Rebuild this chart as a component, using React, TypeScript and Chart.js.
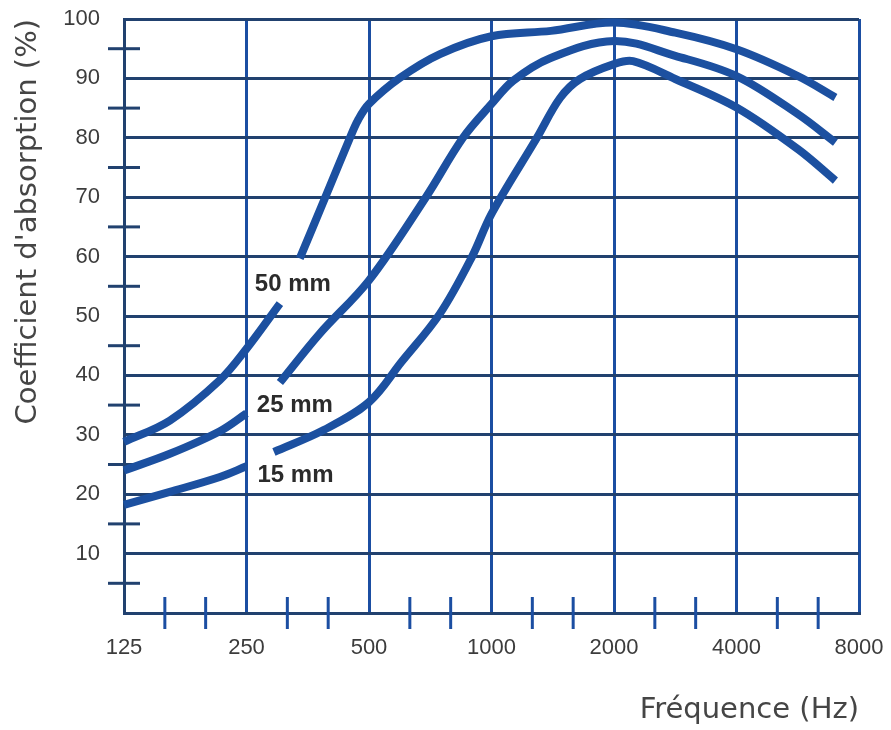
import React, { useEffect, useRef } from 'react';
import { Chart, registerables } from 'chart.js';

Chart.register(...registerables);

// Axis ticks
const xTickValues = [125, 250, 500, 1000, 2000, 4000, 8000];
const xMinorTicks = [157.5, 198.4, 315, 396.9, 630, 793.7, 1259.9, 1587.4, 2519.8, 3174.8, 5039.7, 6349.6];
const yMinorTicks = [5, 15, 25, 35, 45, 55, 65, 75, 85, 95];

// 50 mm curve (null = gap for the label)
const freq50 = [125, 162, 215, 250, 302, 320, 338, 390, 449, 470, 500, 596, 747, 1000, 1400, 2000, 2828, 4000, 5657, 7000];
const abs50 = [28.8, 32.4, 39.2, 44.5, 52.1, null, 59.7, 69.9, 80, 83, 85.7, 90.1, 94.1, 97.1, 98, 99.4, 97.7, 94.9, 90.4, 86.8];

// 25 mm curve
const freq25 = [125, 162, 215, 250, 275, 302, 378, 500, 690, 851, 1000, 1130, 1393, 2000, 2828, 4000, 5657, 7000];
const abs25 = [24, 26.8, 30.6, 33.6, null, 38.8, 47, 56, 70, 80, 85.7, 89.6, 93.4, 96.3, 93.8, 90.4, 84, 79.2];

// 15 mm curve
const freq15 = [125, 162, 215, 250, 270, 292, 387, 500, 600, 747, 896, 1000, 1293, 1474, 1650, 2000, 2227, 2828, 4000, 5657, 7000];
const abs15 = [18.2, 20.4, 22.9, 24.7, null, 27.1, 30.8, 35.5, 42.2, 50.4, 60, 67.2, 80, 86.7, 89.9, 92.4, 92.9, 89.9, 85.1, 78.1, 72.8];

// Curve labels (anchored in data coordinates)
const curveLabelText = ['50 mm', '25 mm', '15 mm'];
const curveLabelFreq = [262, 265, 266];
const curveLabelAbs = [55.4, 34.9, 23.2];

const CURVE = '#1c50a0';
const HGRID = '#21416f';
const VGRID = '#1b4ea2';
const TICK_FONT = "'Liberation Sans', Arial, sans-serif";
const TITLE_FONT = "'DejaVu Sans', Verdana, sans-serif";
const CLEAR = 'rgba(0,0,0,0)';

const toPoints = (xs: number[], ys: (number | null)[]) => xs.map((x, i) => ({ x, y: ys[i] }));

const labelPlugin = {
  id: 'curveLabels',
  afterDatasetsDraw(chart: any) {
    const { ctx, scales } = chart;
    const xs = scales.x;
    const ys = scales.y;
    ctx.save();
    ctx.font = `bold 24px ${TICK_FONT}`;
    ctx.fillStyle = '#2b2b2b';
    ctx.textBaseline = 'middle';
    ctx.textAlign = 'left';
    curveLabelText.forEach((t, i) => {
      ctx.fillText(t, xs.getPixelForValue(curveLabelFreq[i]), ys.getPixelForValue(curveLabelAbs[i]));
    });
    ctx.restore();
  },
};

export default function App() {
  const ref = useRef<HTMLCanvasElement | null>(null);

  useEffect(() => {
    if (!ref.current) return;
    const curveDs = (label: string, xs: number[], ys: (number | null)[]) => ({
      label,
      data: toPoints(xs, ys),
      borderColor: CURVE,
      backgroundColor: CURVE,
      borderWidth: 8,
      pointRadius: 0,
      fill: false,
      spanGaps: false,
      tension: 0.35,
      clip: false as any,
    });
    const chart = new Chart(ref.current, {
      type: 'line',
      data: {
        datasets: [
          curveDs('50 mm', freq50, abs50),
          curveDs('25 mm', freq25, abs25),
          curveDs('15 mm', freq15, abs15),
          {
            label: 'xminor',
            data: xMinorTicks.map((x) => ({ x, y: 0 })),
            showLine: false,
            pointStyle: 'line',
            rotation: 90,
            pointRadius: 16,
            borderWidth: 3,
            borderColor: VGRID,
            backgroundColor: VGRID,
            clip: false as any,
          } as any,
          {
            label: 'yminor',
            data: yMinorTicks.map((y) => ({ x: 125, y })),
            showLine: false,
            pointStyle: 'line',
            rotation: 0,
            pointRadius: 16,
            borderWidth: 3,
            borderColor: HGRID,
            backgroundColor: HGRID,
            clip: false as any,
          } as any,
        ],
      },
      options: {
        responsive: false,
        animation: false,
        events: [],
        layout: { padding: { left: 0, right: 32, top: 18, bottom: 0 } },
        plugins: {
          legend: { display: false },
          tooltip: { enabled: false },
        },
        scales: {
          x: {
            type: 'logarithmic',
            min: 125,
            max: 8000,
            afterBuildTicks: (scale: any) => {
              scale.ticks = xTickValues.map((value) => ({ value }));
            },
            afterFit: (scale: any) => {
              scale.height = 117;
            },
            ticks: {
              autoSkip: false,
              maxRotation: 0,
              padding: 0,
              color: '#3c3c3c',
              font: { family: TICK_FONT, size: 22 },
              callback: (v: any) => String(v),
            },
            grid: { color: VGRID, lineWidth: 3, drawTicks: true, tickLength: 22, tickColor: CLEAR },
            border: { display: true, color: HGRID, width: 3 },
            title: {
              display: true,
              text: 'Fréquence (Hz)',
              align: 'end',
              color: '#454545',
              font: { family: TITLE_FONT, size: 29 },
              padding: { top: 0, bottom: 2 },
            },
          },
          y: {
            type: 'linear',
            min: 0,
            max: 100,
            afterFit: (scale: any) => {
              scale.width = 124;
            },
            ticks: {
              stepSize: 10,
              padding: 0,
              color: '#3c3c3c',
              font: { family: TICK_FONT, size: 22 },
              callback: (v: any) => (v === 0 ? '' : String(v)),
            },
            grid: { color: HGRID, lineWidth: 3, drawTicks: true, tickLength: 24, tickColor: CLEAR },
            border: { display: true, color: HGRID, width: 3 },
            title: {
              display: true,
              text: "Coefficient d'absorption (%)",
              align: 'end',
              color: '#454545',
              font: { family: TITLE_FONT, size: 29 },
              padding: { top: 11, bottom: 0 },
            },
          },
        },
      } as any,
      plugins: [labelPlugin],
    });
    return () => chart.destroy();
  }, []);

  return (
    <div style={{ position: 'absolute', left: 0, top: 0, width: 891, height: 730, background: '#ffffff' }}>
      <canvas ref={ref} width={891} height={730} style={{ display: 'block' }} />
    </div>
  );
}
